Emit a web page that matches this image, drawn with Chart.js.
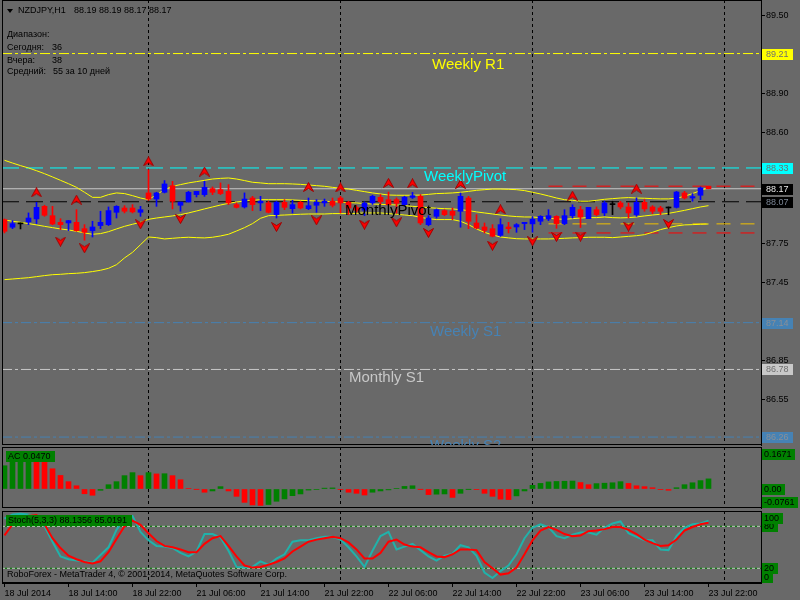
<!DOCTYPE html>
<html>
<head>
<meta charset="utf-8">
<title>NZDJPY,H1</title>
<script src="https://cdn.jsdelivr.net/npm/chart.js@4.4.1/dist/chart.umd.min.js"></script>
<style>
  html, body { margin: 0; padding: 0; width: 800px; height: 600px; overflow: hidden; background: #696969; }
  canvas { position: absolute; left: 0; }
  #mainChart { top: 0; }
  #acChart { top: 447px; }
  #stochChart { top: 511px; }
</style>
</head>
<body>
<canvas id="mainChart" width="800" height="446"></canvas>
<canvas id="acChart" width="800" height="62"></canvas>
<canvas id="stochChart" width="800" height="89"></canvas>
<script>
// Candles, one per hour, 18 Jul 2014 06:00 .. 23 Jul 2014 22:00
const openPrices = [
  87.933, 87.874, 87.900, 87.915, 87.938, 88.035, 87.963, 87.912, 87.907, 87.912,
  87.863, 87.848, 87.887, 87.894, 87.989, 88.022, 88.022, 87.989, 88.138, 88.091,
  88.143, 88.194, 88.043, 88.068, 88.125, 88.125, 88.171, 88.163, 88.150, 88.048,
  88.030, 88.099, 88.061, 88.061, 87.971, 88.066, 88.017, 88.066, 88.017, 88.043,
  88.061, 88.074, 88.099, 88.066, 88.025, 88.005, 88.061, 88.104, 88.086, 88.087,
  88.048, 88.104, 88.112, 87.894, 87.958, 88.002, 87.997, 87.997, 88.099, 87.907,
  87.876, 87.863, 87.812, 87.876, 87.876, 87.902, 87.900, 87.920, 87.938, 87.958,
  87.902, 87.963, 88.009, 87.940, 88.009, 87.984, 88.048, 88.061, 88.030, 87.971,
  88.066, 88.030, 88.022, 88.022, 88.027, 88.138, 88.099, 88.120, 88.19
];
const highPrices = [
  87.938, 87.925, 87.907, 87.984, 88.066, 88.043, 88.035, 87.940, 87.927, 88.009,
  87.894, 87.920, 87.997, 88.030, 88.040, 88.040, 88.048, 88.035, 88.317, 88.143,
  88.233, 88.227, 88.068, 88.150, 88.150, 88.227, 88.184, 88.215, 88.202, 88.061,
  88.138, 88.112, 88.112, 88.074, 88.074, 88.086, 88.081, 88.074, 88.099, 88.086,
  88.091, 88.099, 88.112, 88.074, 88.040, 88.070, 88.120, 88.125, 88.145, 88.100,
  88.112, 88.142, 88.125, 87.963, 88.015, 88.009, 88.022, 88.137, 88.112, 87.971,
  87.907, 87.894, 87.940, 87.912, 87.902, 87.912, 87.955, 87.963, 88.009, 87.963,
  88.009, 88.047, 88.035, 88.027, 88.030, 88.074, 88.074, 88.074, 88.061, 88.100,
  88.086, 88.040, 88.035, 88.030, 88.150, 88.150, 88.133, 88.184, 88.19
];
const lowPrices = [
  87.830, 87.863, 87.861, 87.894, 87.902, 87.958, 87.894, 87.856, 87.848, 87.843,
  87.774, 87.799, 87.863, 87.887, 87.945, 87.984, 87.984, 87.958, 88.081, 88.035,
  88.138, 88.015, 87.997, 88.068, 88.107, 88.112, 88.125, 88.125, 88.048, 88.022,
  88.022, 88.002, 88.002, 87.984, 87.945, 88.009, 87.984, 88.015, 88.009, 87.989,
  88.035, 88.030, 87.984, 87.971, 87.990, 87.964, 88.050, 88.050, 88.040, 87.982,
  88.035, 88.095, 87.894, 87.885, 87.945, 87.963, 87.933, 87.874, 87.863, 87.861,
  87.830, 87.800, 87.804, 87.830, 87.835, 87.856, 87.836, 87.894, 87.925, 87.866,
  87.894, 87.945, 87.872, 87.940, 87.963, 87.963, 87.971, 88.015, 87.945, 87.958,
  87.997, 87.979, 87.971, 87.970, 88.022, 88.091, 88.074, 88.086, 88.17
];
const closePrices = [
  87.843, 87.902, 87.900, 87.945, 88.027, 87.966, 87.899, 87.894, 87.925, 87.848,
  87.835, 87.876, 87.912, 88.002, 88.035, 87.997, 87.992, 88.009, 88.091, 88.138,
  88.207, 88.074, 88.068, 88.143, 88.150, 88.181, 88.143, 88.133, 88.061, 88.027,
  88.091, 88.048, 88.074, 87.989, 88.066, 88.027, 88.048, 88.022, 88.040, 88.066,
  88.074, 88.043, 88.061, 88.022, 88.005, 88.058, 88.112, 88.071, 88.048, 88.058,
  88.104, 88.117, 87.907, 87.945, 88.009, 87.971, 87.966, 88.112, 87.920, 87.868,
  87.850, 87.805, 87.894, 87.863, 87.894, 87.912, 87.935, 87.958, 87.963, 87.902,
  87.963, 88.027, 87.953, 88.027, 87.971, 88.061, 88.048, 88.030, 87.984, 88.066,
  88.015, 87.997, 87.997, 88.022, 88.145, 88.099, 88.110, 88.176, 88.17
];

// Bands
const bbUpper = [
  88.389, 88.368, 88.348, 88.330, 88.309, 88.286, 88.261, 88.235, 88.209, 88.181,
  88.143, 88.104, 88.104, 88.125, 88.138, 88.133, 88.117, 88.099, 88.086, 88.125,
  88.163, 88.189, 88.202, 88.215, 88.225, 88.235, 88.245, 88.250, 88.253, 88.245,
  88.233, 88.220, 88.215, 88.209, 88.209, 88.209, 88.207, 88.204, 88.199, 88.194,
  88.189, 88.181, 88.174, 88.168, 88.158, 88.148, 88.138, 88.130, 88.122, 88.120,
  88.120, 88.120, 88.122, 88.127, 88.133, 88.135, 88.138, 88.143, 88.150, 88.158,
  88.163, 88.168, 88.168, 88.166, 88.163, 88.156, 88.143, 88.130, 88.115, 88.099,
  88.086, 88.081, 88.074, 88.074, 88.081, 88.089, 88.094, 88.099, 88.102, 88.099,
  88.097, 88.094, 88.092, 88.092, 88.097, 88.112, 88.133, 88.156, 88.179
];
const bbMiddle = [
  87.930, 87.920, 87.912, 87.902, 87.892, 87.881, 87.871, 87.861, 87.853, 87.843,
  87.830, 87.820, 87.825, 87.840, 87.861, 87.881, 87.897, 87.912, 87.935, 87.945,
  87.953, 87.961, 87.971, 87.984, 87.999, 88.015, 88.030, 88.045, 88.058, 88.068,
  88.076, 88.081, 88.086, 88.086, 88.086, 88.086, 88.084, 88.081, 88.079, 88.076,
  88.074, 88.071, 88.068, 88.063, 88.061, 88.056, 88.053, 88.050, 88.048, 88.045,
  88.040, 88.035, 88.030, 88.025, 88.020, 88.017, 88.015, 88.009, 88.002, 87.992,
  87.984, 87.976, 87.968, 87.961, 87.956, 87.953, 87.953, 87.948, 87.943, 87.938,
  87.935, 87.940, 87.945, 87.948, 87.948, 87.953, 87.948, 87.946, 87.948, 87.953,
  87.961, 87.968, 87.974, 87.981, 87.992, 88.004, 88.017, 88.030, 88.040
];
const bbLower = [
  87.471, 87.476, 87.481, 87.486, 87.494, 87.502, 87.509, 87.512, 87.517, 87.520,
  87.525, 87.533, 87.543, 87.558, 87.586, 87.638, 87.681, 87.740, 87.799, 87.794,
  87.784, 87.789, 87.794, 87.797, 87.794, 87.792, 87.797, 87.807, 87.820, 87.845,
  87.871, 87.902, 87.943, 87.963, 87.966, 87.968, 87.971, 87.974, 87.976, 87.976,
  87.976, 87.979, 87.979, 87.979, 87.981, 87.984, 87.984, 87.984, 87.979, 87.974,
  87.968, 87.963, 87.950, 87.940, 87.933, 87.933, 87.933, 87.920, 87.894, 87.861,
  87.835, 87.815, 87.799, 87.792, 87.786, 87.784, 87.784, 87.784, 87.784, 87.786,
  87.789, 87.792, 87.794, 87.797, 87.797, 87.797, 87.794, 87.799, 87.804, 87.809,
  87.817, 87.835, 87.856, 87.871, 87.884, 87.892, 87.894, 87.897, 87.899
];

// Fractal arrows: bar index and the price where the arrow sits
const upFractalIdx = [4, 9, 18, 25, 38, 42, 48, 51, 57, 62, 71, 79];
const upFractalPrice = [88.143, 88.086, 88.381, 88.302, 88.184, 88.180, 88.215, 88.212, 88.207, 88.012, 88.117, 88.171];
const downFractalIdx = [7, 10, 17, 22, 34, 39, 45, 49, 53, 61, 66, 69, 72, 78, 83];
const downFractalPrice = [87.763, 87.712, 87.897, 87.937, 87.876, 87.927, 87.894, 87.912, 87.830, 87.732, 87.766, 87.799, 87.802, 87.879, 87.899];

// Pivot levels
const levelNames = ['Weekly R1', 'WeeklyPivot', 'MonthlyPivot', 'Weekly S1', 'Monthly S1', 'Weekly S2'];
const levelPrices = [89.21, 88.33, 88.07, 87.14, 86.78, 86.26];
// Today's lines, drawn from the bar where they start
const todayLevels = [88.19, 87.90, 87.83];
const todayFrom = 68;

const priceTicks = [89.50, 89.20, 88.90, 88.60, 88.30, 88.05, 87.75, 87.45, 87.15, 86.85, 86.55, 86.25];
const timeTickIdx = [0, 8, 16, 24, 32, 40, 48, 56, 64, 72, 80, 88];
const timeLabels = ['18 Jul 2014', '18 Jul 14:00', '18 Jul 22:00', '21 Jul 06:00', '21 Jul 14:00', '21 Jul 22:00',
  '22 Jul 06:00', '22 Jul 14:00', '22 Jul 22:00', '23 Jul 06:00', '23 Jul 14:00', '23 Jul 22:00'];
const daySeparators = [18, 42, 66, 90];

// Accelerator oscillator
const acValues = [
  0.108, 0.135, 0.150, 0.1671, 0.155, 0.132, 0.094, 0.063, 0.034, 0.015,
  -0.022, -0.029, -0.006, 0.020, 0.034, 0.062, 0.076, 0.062, 0.076, 0.070,
  0.071, 0.062, 0.043, 0.002, -0.001, -0.015, -0.009, 0.011, -0.009, -0.034,
  -0.062, -0.074, -0.0761, -0.072, -0.057, -0.046, -0.031, -0.023, -0.005, -0.002,
  0.004, 0.005, -0.003, -0.015, -0.020, -0.028, -0.015, -0.009, -0.004, 0.002,
  0.012, 0.015, -0.001, -0.026, -0.024, -0.023, -0.039, -0.020, -0.001, -0.003,
  -0.020, -0.034, -0.047, -0.049, -0.032, -0.009, 0.017, 0.026, 0.033, 0.035,
  0.036, 0.037, 0.030, 0.020, 0.025, 0.027, 0.029, 0.034, 0.026, 0.015,
  0.011, 0.006, -0.003, -0.006, 0.006, 0.020, 0.029, 0.039, 0.047
];
const acMarks = [-0.0761, 0, 0.1671];
const acMarkLabels = ['-0.0761', '0.00', '0.1671'];

// Stochastic (5,3,3)
const stochK = [
  91, 97, 98, 97, 95, 80, 58, 37, 33, 31,
  30, 28, 39, 50, 75, 92, 95, 72, 60, 52,
  51, 49, 42, 37, 44, 69, 69, 64, 45, 22,
  21, 22, 30, 25, 34, 40, 58, 60, 60, 63,
  65, 65, 61, 50, 37, 22, 45, 66, 72, 47,
  51, 55, 46, 37, 31, 38, 41, 53, 50, 38,
  14, 6, 16, 24, 40, 63, 78, 83, 79, 66,
  63, 68, 71, 71, 68, 78, 84, 87, 70, 65,
  60, 60, 47, 46, 66, 78, 83, 84, 88.1356
];
const stochD = [
  67, 83, 92, 95, 96, 83, 63, 49, 38, 33,
  29, 27, 30, 43, 62, 80, 88, 82, 70, 59,
  52, 50, 47, 43, 43, 55, 63, 66, 52, 37,
  24, 21, 22, 25, 29, 34, 44, 51, 58, 61,
  63, 65, 63, 57, 47, 34, 34, 42, 58, 61,
  54, 51, 50, 43, 37, 36, 40, 47, 47, 46,
  29, 20, 11, 13, 21, 40, 60, 74, 79, 75,
  69, 66, 67, 73, 74, 76, 79, 79, 75, 69,
  61, 56, 52, 53, 61, 74, 79, 83, 85.0191
];
const stochLevels = [80, 20];
const stochMarks = [0, 20, 80, 100];

const infoLines = [['Диапазон:', ''], ['Сегодня:', '36'], ['Вчера:', '38'], ['Средний:', '55 за 10 дней']];

// ---- styles ----
const FAMILY = '"Liberation Sans", Arial, sans-serif';
const SMALL = '9px ' + FAMILY;
const BIG = '15px ' + FAMILY;
const X_MIN = -0.3125;
const X_MAX = X_MIN + 759 / 8;

const levelStyle = {
  'Weekly R1':    { color: '#ffff00', text: '#ffff00', dash: [10, 3, 3, 3], tx: 432, dy: 15, boxText: '#6e6e6e' },
  'WeeklyPivot':  { color: '#00ffff', text: '#00ffff', dash: [17, 7], tx: 424, dy: 13, boxText: '#6e6e6e' },
  'MonthlyPivot': { color: '#000000', text: '#000000', dash: [17, 7], tx: 345, dy: 13, boxText: '#7d8796' },
  'Weekly S1':    { color: '#4682b4', text: '#4682b4', dash: [10, 3, 3, 3], tx: 430, dy: 13, boxText: '#8a8f96' },
  'Monthly S1':   { color: '#c8c8c8', text: '#c8c8c8', dash: [10, 3, 3, 3], tx: 349, dy: 13, boxText: '#6e6e6e' },
  'Weekly S2':    { color: '#4682b4', text: '#4682b4', dash: [10, 3, 3, 3], tx: 430, dy: 13, boxText: '#8a8f96' },
};
const todayColors = ['#ff0000', '#f0c000', '#ff0000'];

const candleColors = openPrices.map((o, i) =>
  closePrices[i] > o ? '#0000ff' : closePrices[i] < o ? '#ff0000' : '#000000');
const acColors = acValues.map((v, i) => (i === 0 || v > acValues[i - 1]) ? '#008000' : '#ff0000');

function series(arr) { return arr.map((y, x) => ({ x, y })); }
function hline(y, from) { return [{ x: from === undefined ? X_MIN : from, y }, { x: X_MAX, y }]; }

function arrowImage(up) {
  const c = document.createElement('canvas');
  c.width = 11; c.height = 10;
  const g = c.getContext('2d');
  g.translate(5.5, 5);
  if (!up) g.scale(1, -1);
  g.beginPath();
  g.moveTo(0, -4.5); g.lineTo(5, 4.5); g.lineTo(0, 1.5); g.lineTo(-5, 4.5); g.closePath();
  g.fillStyle = '#ff0000'; g.fill();
  g.strokeStyle = '#a00000'; g.lineWidth = 1; g.stroke();
  return c;
}

const fitRight = s => { s.width = 39; s.paddingTop = 0; s.paddingBottom = 0; };
const xHidden = { type: 'linear', min: X_MIN, max: X_MAX, display: false, offset: false };
const baseOptions = {
  responsive: false, animation: false, devicePixelRatio: 1, events: [],
  plugins: { legend: { display: false }, tooltip: { enabled: false } },
};

// separators and panel frame, shared by all panels
const frame = {
  id: 'frame',
  beforeDatasetsDraw(chart) {
    const { ctx, chartArea: a, scales: { x } } = chart;
    ctx.save();
    ctx.strokeStyle = '#000'; ctx.lineWidth = 1; ctx.setLineDash([3, 3]);
    daySeparators.forEach(i => {
      const px = Math.floor(x.getPixelForValue(i)) + 0.5;
      ctx.beginPath(); ctx.moveTo(px, a.top); ctx.lineTo(px, a.bottom); ctx.stroke();
    });
    ctx.restore();
  },
  afterDraw(chart) {
    const { ctx, chartArea: a } = chart;
    ctx.save();
    ctx.strokeStyle = '#000'; ctx.lineWidth = 1;
    ctx.strokeRect(a.left + 0.5, a.top + 0.5, a.right - a.left, a.bottom - a.top - 1);
    ctx.restore();
  }
};

function sideBox(ctx, y, text, bg, fg, w) {
  const yy = Math.round(y);
  ctx.font = SMALL;
  const width = w || Math.ceil(ctx.measureText(text).width) + 5;
  ctx.fillStyle = bg; ctx.fillRect(762, yy - 5, width, 11);
  ctx.fillStyle = fg; ctx.textAlign = 'left'; ctx.textBaseline = 'middle';
  ctx.fillText(text, w ? 766 : 764, yy + 0.5);
}

function tagBox(ctx, text) {
  ctx.font = SMALL;
  const w = Math.ceil(ctx.measureText(text).width) + 6;
  ctx.fillStyle = '#008000'; ctx.fillRect(6, 4, w, 11);
  ctx.fillStyle = '#000'; ctx.textAlign = 'left'; ctx.textBaseline = 'middle';
  ctx.fillText(text, 8, 10);
}

const mainOverlay = {
  id: 'mainOverlay',
  afterDraw(chart) {
    const { ctx, chartArea: a, scales: { y } } = chart;
    ctx.save();
    ctx.beginPath(); ctx.rect(a.left, a.top, a.right - a.left, a.bottom - a.top); ctx.clip();
    ctx.font = BIG; ctx.textAlign = 'left'; ctx.textBaseline = 'alphabetic';
    levelNames.forEach((name, k) => {
      const st = levelStyle[name];
      ctx.fillStyle = st.text;
      ctx.fillText(name, st.tx, y.getPixelForValue(levelPrices[k]) + st.dy);
    });
    ctx.restore();

    ctx.save();
    ctx.fillStyle = '#000';
    ctx.beginPath(); ctx.moveTo(7, 9); ctx.lineTo(13, 9); ctx.lineTo(10, 13); ctx.closePath(); ctx.fill();
    ctx.font = SMALL; ctx.textAlign = 'left'; ctx.textBaseline = 'middle';
    const last = openPrices.length - 1;
    ctx.fillText('NZDJPY,H1', 18, 11);
    ctx.fillText([openPrices[last], highPrices[last], lowPrices[last], closePrices[last]]
      .map(v => v.toFixed(2)).join(' '), 74, 11);
    infoLines.forEach((row, k) => {
      const yy = [35, 48, 60.5, 72][k];
      ctx.fillText(row[0], 7, yy);
      if (row[1]) ctx.fillText(row[1], k === 3 ? 53 : 52, yy);
    });

    levelNames.forEach((name, k) => {
      const st = levelStyle[name];
      sideBox(ctx, y.getPixelForValue(levelPrices[k]), levelPrices[k].toFixed(2),
        name === 'MonthlyPivot' ? '#000' : st.color, st.boxText, 31);
    });
    sideBox(ctx, y.getPixelForValue(closePrices[last]), closePrices[last].toFixed(2), '#000', '#e6e6e6', 31);
    ctx.restore();
  }
};

const acOverlay = {
  id: 'acOverlay',
  afterDraw(chart) {
    const { ctx, chartArea: a, scales: { y } } = chart;
    ctx.save();
    acMarks.forEach((v, k) => {
      const py = Math.min(Math.max(y.getPixelForValue(v), a.top + 7), a.bottom - 6.5);
      sideBox(ctx, py, acMarkLabels[k], '#008000', '#000');
    });
    tagBox(ctx, 'AC ' + acValues[acValues.length - 1].toFixed(4));
    ctx.restore();
  }
};

const stochOverlay = {
  id: 'stochOverlay',
  afterDraw(chart) {
    const { ctx, chartArea: a, scales: { y } } = chart;
    ctx.save();
    stochMarks.forEach(v => {
      const py = Math.min(Math.max(y.getPixelForValue(v), a.top + 7), a.bottom - 6.5);
      sideBox(ctx, py, String(v), '#008000', '#000');
    });
    const n = stochK.length - 1;
    tagBox(ctx, 'Stoch(5,3,3) ' + stochK[n].toFixed(4) + ' ' + stochD[n].toFixed(4));
    ctx.font = SMALL; ctx.fillStyle = '#000'; ctx.textAlign = 'left'; ctx.textBaseline = 'middle';
    ctx.fillText('RoboForex - MetaTrader 4, © 2001-2014, MetaQuotes Software Corp.', 7, 64);
    ctx.restore();
  }
};

// ---- main price panel ----
new Chart(document.getElementById('mainChart'), {
  type: 'bar',
  data: {
    datasets: [
      ...levelNames.map((name, k) => ({
        type: 'line', data: hline(levelPrices[k]), borderColor: levelStyle[name].color,
        borderDash: levelStyle[name].dash, borderWidth: 1, pointRadius: 0, order: 20
      })),
      { type: 'line', data: hline(closePrices[closePrices.length - 1]), borderColor: '#c8c8c8',
        borderWidth: 1, pointRadius: 0, order: 19 },
      ...todayLevels.map((p, k) => ({
        type: 'line', data: hline(p, todayFrom), borderColor: todayColors[k],
        borderDash: [14, 10], borderWidth: 1, pointRadius: 0, order: 18
      })),
      ...[bbUpper, bbMiddle, bbLower].map(band => ({
        type: 'line', data: series(band), borderColor: '#ffff00', borderWidth: 1,
        pointRadius: 0, tension: 0, order: 10
      })),
      { type: 'bar', data: lowPrices.map((l, i) => ({ x: i, y: [l, highPrices[i]] })),
        backgroundColor: candleColors, barThickness: 1, grouped: false, order: 6 },
      { type: 'bar', data: openPrices.map((o, i) => ({ x: i, y: [o, closePrices[i]] })),
        backgroundColor: candleColors, barThickness: 5, minBarLength: 1, grouped: false, order: 5 },
      { type: 'line', showLine: false, data: upFractalIdx.map((x, k) => ({ x, y: upFractalPrice[k] })),
        pointStyle: arrowImage(true), pointRadius: 5, order: 1 },
      { type: 'line', showLine: false, data: downFractalIdx.map((x, k) => ({ x, y: downFractalPrice[k] })),
        pointStyle: arrowImage(false), pointRadius: 5, order: 1 },
    ]
  },
  options: {
    ...baseOptions,
    layout: { autoPadding: false, padding: { left: 2, right: 0, top: 0, bottom: 1 } },
    scales: {
      x: xHidden,
      y: {
        position: 'right', min: 86.199, max: 89.622,
        afterBuildTicks: s => { s.ticks = priceTicks.map(value => ({ value })); },
        afterFit: fitRight,
        ticks: { callback: v => v.toFixed(2), color: '#000', font: { family: FAMILY, size: 9 }, padding: 1 },
        grid: { drawOnChartArea: false, color: '#000', tickLength: 4 },
        border: { color: '#000' }
      }
    }
  },
  plugins: [frame, mainOverlay]
});

// ---- AC panel ----
new Chart(document.getElementById('acChart'), {
  type: 'bar',
  data: { datasets: [{ data: series(acValues), backgroundColor: acColors, barThickness: 5 }] },
  options: {
    ...baseOptions,
    layout: { autoPadding: false, padding: { left: 2, right: 0, top: 0, bottom: 1 } },
    scales: {
      x: xHidden,
      y: {
        position: 'right', min: -0.0882, max: 0.1950, afterFit: fitRight,
        ticks: { display: false }, grid: { drawOnChartArea: false, drawTicks: false },
        border: { color: '#000' }
      }
    }
  },
  plugins: [frame, acOverlay]
});

// ---- Stochastic panel with the time axis ----
new Chart(document.getElementById('stochChart'), {
  type: 'line',
  data: {
    datasets: [
      { data: series(stochD), borderColor: '#ff0000', borderWidth: 2, pointRadius: 0, order: 0 },
      { data: series(stochK), borderColor: '#20b2aa', borderWidth: 2, pointRadius: 0, order: 1 },
      ...stochLevels.flatMap(v => [
        { data: hline(v), borderColor: '#c8c8c8', borderDash: [3, 2], borderWidth: 1, pointRadius: 0, order: 5 },
        { data: hline(v), borderColor: '#008000', borderWidth: 1, pointRadius: 0, order: 6 },
      ])
    ]
  },
  options: {
    ...baseOptions,
    layout: { autoPadding: false, padding: { left: 2, right: 0, top: 0, bottom: 0 } },
    scales: {
      x: {
        type: 'linear', min: X_MIN, max: X_MAX, position: 'bottom', offset: false,
        afterBuildTicks: s => { s.ticks = timeTickIdx.map(value => ({ value })); },
        afterFit: s => { s.height = 17; s.paddingLeft = 0; s.paddingRight = 0; },
        ticks: {
          callback: (v, i) => timeLabels[i], align: 'start', autoSkip: false,
          maxRotation: 0, minRotation: 0, color: '#000', font: { family: FAMILY, size: 9 }, padding: 1
        },
        grid: { drawOnChartArea: false, color: '#000', tickLength: 4 },
        border: { color: '#000' }
      },
      y: {
        position: 'right', min: -1.0, max: 101.9, afterFit: fitRight,
        ticks: { display: false }, grid: { drawOnChartArea: false, drawTicks: false },
        border: { color: '#000' }
      }
    }
  },
  plugins: [frame, stochOverlay]
});
</script>
</body>
</html>
